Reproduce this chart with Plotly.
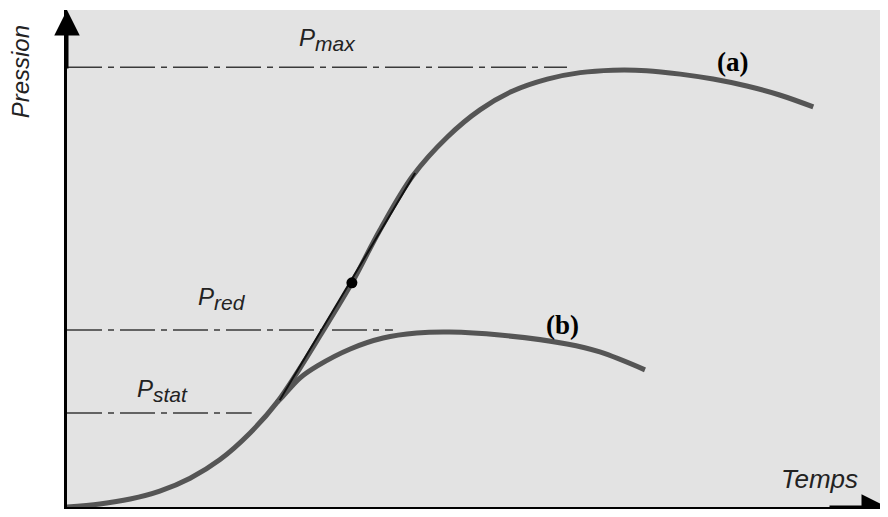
import plotly.graph_objects as go

# curve (a): full explosion pressure
t_a = [0, 0.40, 0.77, 1.13, 1.50, 1.86, 2.23, 2.56, 2.84, 3.08, 3.47, 3.81, 4.21, 4.63,
       5.03, 5.43, 5.85, 6.25, 6.65, 7.06, 7.47, 7.87, 8.28, 8.68, 9.09]
p_a = [0, 0.06, 0.16, 0.32, 0.58, 0.95, 1.49, 2.11, 2.80, 3.44, 4.51, 5.57, 6.66, 7.44,
       7.99, 8.37, 8.61, 8.74, 8.79, 8.78, 8.71, 8.61, 8.47, 8.29, 8.05]

# curve (b): vented explosion
t_b = [2.56, 2.63, 2.84, 3.05, 3.45, 3.85, 4.26, 4.66, 5.27, 6.09, 6.49, 7.04]
p_b = [2.11, 2.23, 2.60, 2.84, 3.18, 3.40, 3.50, 3.52, 3.46, 3.28, 3.12, 2.76]

# tangent and inflection point
t_tan = [2.59, 4.24]
p_tan = [2.15, 6.72]
t_dot = [3.47]
p_dot = [4.51]

# reference pressure levels
levels = {"max": 8.85, "red": 3.56, "stat": 1.89}
level_ends = {"max": 6.09, "red": 3.97, "stat": 2.25}

curve_col = "#555555"
dash = "35px,6px,6px,6px"

fig = go.Figure()

for k in levels:
    fig.add_trace(go.Scatter(x=[0, level_ends[k]], y=[levels[k]] * 2, mode="lines",
                             line=dict(color="#3a3a3a", width=1.5, dash=dash)))

fig.add_trace(go.Scatter(x=t_a, y=p_a, mode="lines",
                         line=dict(color=curve_col, width=5, shape="spline", smoothing=1)))
fig.add_trace(go.Scatter(x=t_b, y=p_b, mode="lines",
                         line=dict(color=curve_col, width=5, shape="spline", smoothing=1)))
fig.add_trace(go.Scatter(x=t_tan, y=p_tan, mode="lines",
                         line=dict(color="#111111", width=2)))
fig.add_trace(go.Scatter(x=t_dot, y=p_dot, mode="markers",
                         marker=dict(color="black", size=11)))

sans = "Liberation Sans, Arial, sans-serif"
serif = "Liberation Serif, Times New Roman, serif"


def plabel(sub):
    return "<i>P<sub><span style='font-size:21px'>%s</span></sub></i>" % sub


lab_font = dict(family=sans, size=24, color="#222")
annotations = [
    dict(x=3.17, y=9.40, text=plabel("max"), font=lab_font),
    dict(x=1.89, y=4.19, text=plabel("red"), font=lab_font),
    dict(x=1.16, y=2.35, text=plabel("stat"), font=lab_font),
    dict(x=8.10, y=8.95, text="<b>(a)</b>", font=dict(family=serif, size=27, color="black")),
    dict(x=6.04, y=3.66, text="<b>(b)</b>", font=dict(family=serif, size=27, color="black")),
    dict(x=9.17, y=0.56, text="<i>Temps</i>", font=dict(family=sans, size=26, color="#222")),
    dict(x=-0.057, y=0.875, xref="paper", yref="paper", text="<i>Pression</i>", textangle=-90,
         xanchor="center", yanchor="middle", font=dict(family=sans, size=24, color="#222")),
    # axis arrows
    dict(x=0, y=1.0, xref="paper", yref="paper", ax=0, ay=60, text="", showarrow=True,
         arrowhead=2, arrowsize=1.7, arrowwidth=3, arrowcolor="black"),
    dict(x=1.0, y=0, xref="paper", yref="paper", ax=-60, ay=0, text="", showarrow=True,
         arrowhead=2, arrowsize=1.7, arrowwidth=3, arrowcolor="black"),
]
for a in annotations:
    a.setdefault("showarrow", False)

# page body adds an 8px margin, so the figure is sized to sit inside the window
fig.update_layout(
    width=880, height=501,
    margin=dict(l=59, r=0, t=2, b=2, autoexpand=False),
    paper_bgcolor="white", plot_bgcolor="#e3e3e3",
    showlegend=False,
    annotations=annotations,
    xaxis=dict(range=[0, 10], showgrid=False, zeroline=False, showticklabels=False, ticks="",
               showline=True, linecolor="black", linewidth=3),
    yaxis=dict(range=[0, 10], showgrid=False, zeroline=False, showticklabels=False, ticks="",
               showline=True, linecolor="black", linewidth=3),
)

fig.write_html("out.html")
